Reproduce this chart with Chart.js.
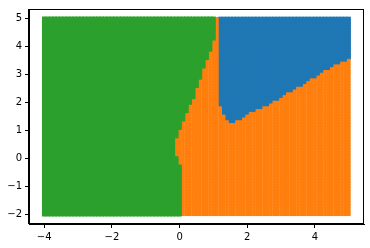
<!DOCTYPE html>
<html>
<head>
<meta charset="utf-8">
<script src="https://cdn.jsdelivr.net/npm/chart.js@4/dist/chart.umd.min.js"></script>
<style>
  html, body { margin: 0; padding: 0; background: #fff; }
</style>
</head>
<body>
<canvas id="chart" width="370" height="248"></canvas>
<script>
// grid of the scatter (meshgrid, step 0.1)
const gridX = [-4, 5];
const gridY = [-2, 5];
const gridStep = 0.1;

// right edge of the green region, read per y
const greenY = [-2.1, -0.3, -0.2, 0.0, 0.07, 0.6, 0.88, 1.09, 1.34, 1.51, 1.76, 1.97, 2.22, 2.5, 2.82, 2.99, 3.34, 3.56, 3.87, 4.22, 4.6, 5.1];
const greenX = [0.08, 0.05, -0.02, -0.02, -0.12, -0.12, -0.02, 0.05, 0.14, 0.22, 0.29, 0.37, 0.46, 0.54, 0.61, 0.70, 0.78, 0.87, 0.95, 1.05, 1.10, 1.16];

// lower edge of the blue region, read per x
const blueX = [1.13, 1.29, 1.45, 1.6, 1.75, 1.94, 2.5, 3.1, 3.7, 4.3, 4.9, 5.05];
const blueY = [1.95, 1.58, 1.27, 1.24, 1.3, 1.5, 1.8, 2.2, 2.64, 3.1, 3.45, 3.55];

const xTicks = [-4, -2, 0, 2, 4];
const yTicks = [-2, -1, 0, 1, 2, 3, 4, 5];

function edgeAt(ks, vs, t) {
  if (t <= ks[0]) return vs[0];
  for (let i = 1; i < ks.length; i++) {
    if (t <= ks[i]) {
      const f = (t - ks[i - 1]) / (ks[i] - ks[i - 1]);
      return vs[i - 1] + f * (vs[i] - vs[i - 1]);
    }
  }
  return vs[vs.length - 1];
}

const blue = [], orange = [], green = [];
const nx = Math.round((gridX[1] - gridX[0]) / gridStep);
const ny = Math.round((gridY[1] - gridY[0]) / gridStep);
for (let j = 0; j <= ny; j++) {
  const y = Math.round((gridY[0] + j * gridStep) * 10) / 10;
  for (let i = 0; i <= nx; i++) {
    const x = Math.round((gridX[0] + i * gridStep) * 10) / 10;
    if (x <= edgeAt(greenY, greenX, y) - 0.05) {
      green.push({x, y});
    } else if (x >= 1.15 && y >= edgeAt(blueX, blueY, x) + 0.03) {
      blue.push({x, y});
    } else {
      orange.push({x, y});
    }
  }
}

const fmt = v => String(v).replace('-', '\u2212');

const frame = {
  id: 'frame',
  afterDraw(chart) {
    const a = chart.chartArea, ctx = chart.ctx;
    ctx.save();
    ctx.strokeStyle = '#000';
    ctx.lineWidth = 1;
    ctx.strokeRect(Math.round(a.left) - 0.5, Math.round(a.top) + 0.5, Math.round(a.right - a.left), Math.round(a.bottom - a.top) - 1);
    ctx.restore();
  }
};

function ds(label, data, color, r) {
  return {
    label, data,
    backgroundColor: color,
    borderWidth: 0,
    pointStyle: 'rect',
    pointRadius: r,
    pointHoverRadius: r
  };
}

const tickFont = {family: 'DejaVu Sans', size: 10};

new Chart(document.getElementById('chart').getContext('2d'), {
  type: 'scatter',
  data: {
    datasets: [
      ds('2', green, '#2ca02c', 3.2),
      ds('1', orange, '#ff7f0e', 2.6),
      ds('0', blue, '#1f77b4', 3)
    ]
  },
  options: {
    responsive: false,
    animation: false,
    events: [],
    layout: {padding: {top: 6, right: 6, left: 0, bottom: 0}},
    plugins: {legend: {display: false}, tooltip: {enabled: false}},
    scales: {
      x: {
        type: 'linear',
        min: -4.45, max: 5.45,
        afterBuildTicks: s => { s.ticks = xTicks.map(v => ({value: v})); },
        afterFit: s => { s.height = 24; },
        grid: {drawOnChartArea: false, drawTicks: true, tickLength: 4, tickColor: '#000'},
        border: {display: true, color: '#000', width: 1},
        ticks: {color: '#000', font: tickFont, padding: 3, maxRotation: 0, autoSkip: false, callback: v => fmt(v)}
      },
      y: {
        type: 'linear',
        min: -2.35, max: 5.35,
        afterBuildTicks: s => { s.ticks = yTicks.map(v => ({value: v})); },
        afterFit: s => { s.width = 29; },
        grid: {drawOnChartArea: false, drawTicks: true, tickLength: 4, tickColor: '#000'},
        border: {display: true, color: '#000', width: 1},
        ticks: {color: '#000', font: tickFont, padding: 3, autoSkip: false, callback: v => fmt(v)}
      }
    }
  },
  plugins: [frame]
});
</script>
</body>
</html>
